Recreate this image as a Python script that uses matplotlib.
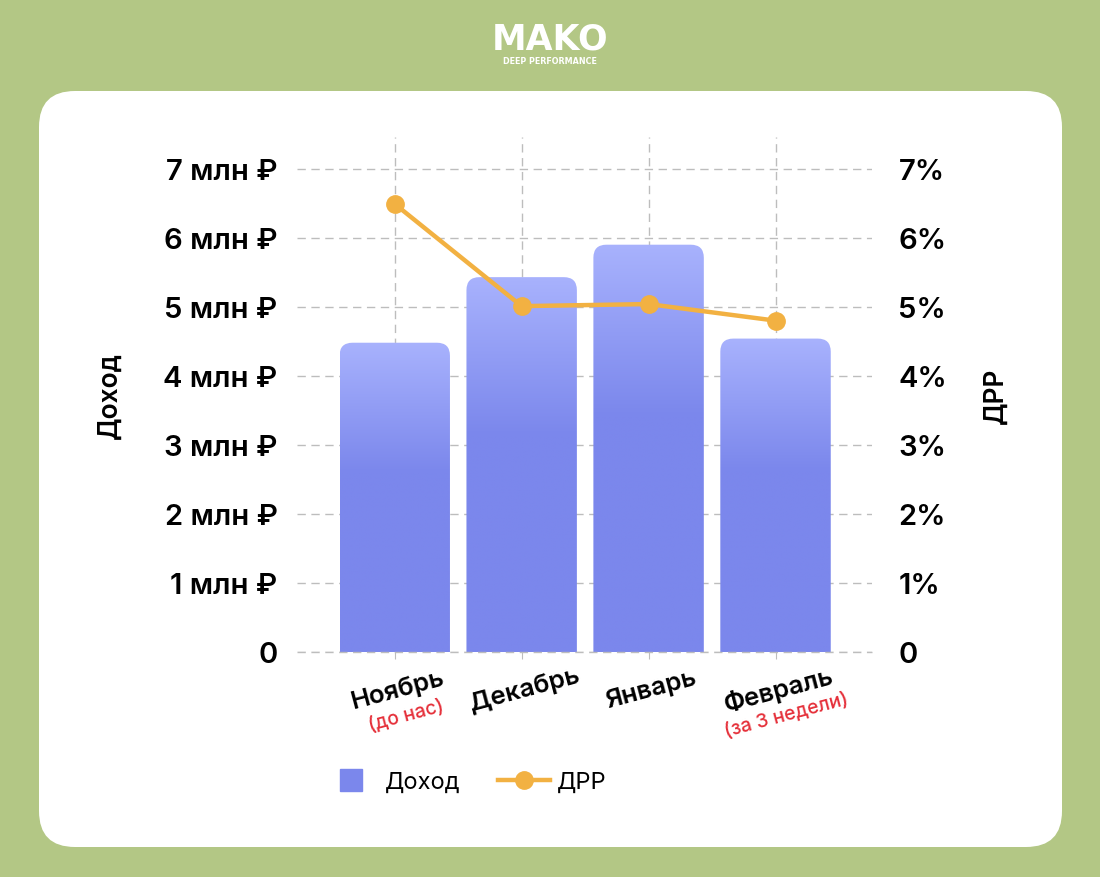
import numpy as np
import matplotlib
matplotlib.use("Agg")
import matplotlib.pyplot as plt
from matplotlib.patches import FancyBboxPatch
from matplotlib.lines import Line2D
from matplotlib import colors as mcolors
import matplotlib.transforms as mtransforms

# ---- data ----
months = ["Ноябрь", "Декабрь", "Январь", "Февраль"]
month_notes = ["(до нас)", "", "", "(за 3 недели)"]
revenue_mln = [4.48, 5.43, 5.90, 4.54]
drr_pct = [6.49, 5.01, 5.04, 4.80]
y_ticks = [0, 1, 2, 3, 4, 5, 6, 7]
left_labels = ["0", "1 млн ₽", "2 млн ₽", "3 млн ₽", "4 млн ₽", "5 млн ₽", "6 млн ₽", "7 млн ₽"]
right_labels = ["0", "1%", "2%", "3%", "4%", "5%", "6%", "7%"]

FONT = ["Inter", "DejaVu Sans"]
plt.rcParams["font.family"] = FONT

BG = "#b3c785"
BAR_BASE = "#7b87ec"
BAR_TOP = "#a8b2fd"
LINE_C = "#f2b142"
GRID_C = "#bdbdbd"
RED = "#e5303a"

W, H = 1100, 878
fig = plt.figure(figsize=(W / 100, H / 100), dpi=100, facecolor=BG)

# background card in pixel coordinates
bg_ax = fig.add_axes([0, 0, 1, 1], zorder=0)
bg_ax.set_xlim(0, W)
bg_ax.set_ylim(H, 0)
bg_ax.axis("off")
card = FancyBboxPatch((39, 92), 1062 - 39, 848 - 92,
                      boxstyle="round,pad=0,rounding_size=36",
                      facecolor="white", edgecolor="none")
bg_ax.add_patch(card)

# logo
bg_ax.text(550, 40, "MAKO", color="white", fontsize=25, fontweight="bold",
           ha="center", va="center", family=["DejaVu Sans"])
bg_ax.text(550, 62, "DEEP PERFORMANCE", color="white", fontsize=5.8,
           fontweight="bold", ha="center", va="center", family=["DejaVu Sans"])

# main axes
left_px, right_px, bottom_px, top_px = 297, 872, 653, 138
ax = fig.add_axes([left_px / W, 1 - bottom_px / H,
                   (right_px - left_px) / W, (bottom_px - top_px) / H], zorder=2)
ax.patch.set_alpha(0)
x = np.arange(len(months))
YMAX = 7.46
ax.set_xlim(-0.77, len(months) - 1 + 0.76)
ax.set_ylim(0, YMAX)

bars = ax.bar(x, revenue_mln, width=0.87, color="none", edgecolor="none")

# gradient rounded bars
px_x = (ax.get_xlim()[1] - ax.get_xlim()[0]) / (right_px - left_px)
px_y = YMAX / (bottom_px - top_px)
radius_px = 13
c_top = np.array(mcolors.to_rgba(BAR_TOP))
c_base = np.array(mcolors.to_rgba(BAR_BASE))
for rect in bars:
    bx, bw, bh = rect.get_x(), rect.get_width(), rect.get_height()
    patch = FancyBboxPatch((bx, -1.0), bw, bh + 1.0,
                           boxstyle="round,pad=0,rounding_size=%f" % (radius_px * px_x),
                           mutation_aspect=px_y / px_x,
                           facecolor="none", edgecolor="none", zorder=2)
    ax.add_patch(patch)
    n = 256
    t = np.linspace(0, 1, n)[:, None]  # 0 at top, 1 at bottom
    f = np.clip(t / 0.42, 0, 1)
    grad = (c_top[None, :] * (1 - f) + c_base[None, :] * f)[:, None, :]
    im = ax.imshow(grad, extent=[bx, bx + bw, 0, bh], origin="upper",
                   aspect="auto", zorder=2, interpolation="bilinear")
    im.set_clip_path(patch)

ax.set_xlim(-0.77, len(months) - 1 + 0.76)
ax.set_ylim(0, YMAX)

# grid
ax.set_yticks(y_ticks)
ax.set_yticklabels(left_labels)
ax.set_xticks(x)
ax.set_xticklabels([])
ax.grid(True, color=GRID_C, linestyle=(0, (6, 4)), linewidth=1.0, zorder=1)
ax.axhline(0, color=GRID_C, linestyle=(0, (6, 4)), linewidth=1.0, zorder=3,
           clip_on=False)
ax.set_axisbelow(True)
for s in ax.spines.values():
    s.set_visible(False)
ax.tick_params(axis="y", length=0, pad=14, labelsize=21, labelcolor="black")
ax.tick_params(axis="x", length=5, width=0.8, color=GRID_C)
for lbl in ax.get_yticklabels():
    lbl.set_fontweight("semibold")

ax.set_ylabel("Доход", fontsize=19, fontweight="semibold", labelpad=0)
ax.yaxis.set_label_coords((123 - left_px) / (right_px - left_px), 0.5)

# x labels
for i, (m, note) in enumerate(zip(months, month_notes)):
    tr = mtransforms.blended_transform_factory(ax.transData, ax.transAxes)
    off = mtransforms.offset_copy(tr, fig=fig, x=3, y=-37, units="dots")
    ax.text(i, 0, m, transform=off, rotation=15, rotation_mode="anchor",
            ha="center", va="center", fontsize=18.5, fontweight="semibold")
    if note:
        off2 = mtransforms.offset_copy(tr, fig=fig, x=11, y=-63, units="dots")
        ax.text(i, 0, note, transform=off2, rotation=15, rotation_mode="anchor",
                ha="center", va="center", fontsize=14, fontweight="medium", color=RED)

# secondary axis
ax2 = ax.twinx()
ax2.set_zorder(3)
ax2.patch.set_alpha(0)
ax2.set_ylim(0, YMAX)
ax2.plot(x, drr_pct, color=LINE_C, linewidth=3.2, marker="o", markersize=12.5,
         zorder=5, clip_on=False)
ax2.set_yticks(y_ticks)
ax2.set_yticklabels(right_labels)
for s in ax2.spines.values():
    s.set_visible(False)
ax2.tick_params(axis="y", length=0, pad=19, labelsize=21)
for lbl in ax2.get_yticklabels():
    lbl.set_fontweight("semibold")
ax2.set_ylabel("ДРР", fontsize=19, fontweight="semibold", rotation=90)
ax2.yaxis.set_label_coords((983 - left_px) / (right_px - left_px), 0.5)

# legend
handles = [Line2D([], [], marker="s", color=BAR_BASE, linestyle="none", markersize=16.5),
           Line2D([], [], marker="o", color=LINE_C, linewidth=3.2, markersize=12.5)]
fig.legend(handles, ["Доход", "ДРР"], loc="center",
           bbox_to_anchor=(466 / W, 1 - 783 / H), ncol=2, frameon=False,
           fontsize=17, handlelength=2.2, handletextpad=0.3, columnspacing=1.6)

fig.savefig("out.png", dpi=100, facecolor=BG)
